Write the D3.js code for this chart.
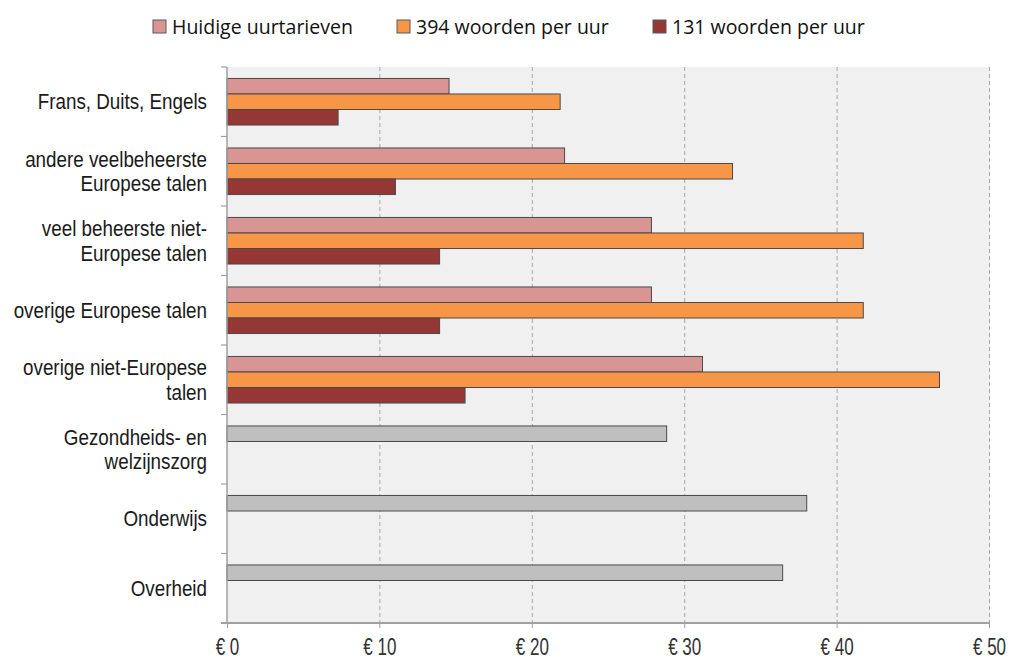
<!DOCTYPE html>
<html>
<head>
<meta charset="utf-8">
<script src="https://cdn.jsdelivr.net/npm/d3@7"></script>
<style>
  body { margin: 0; background: #fff; }
  svg { display: block; }
</style>
</head>
<body>
<div id="chart"></div>
<script>
// categories, top to bottom ("\n" = line break in label)
var categories = [
	"Frans, Duits, Engels",
	"andere veelbeheerste\nEuropese talen",
	"veel beheerste niet-\nEuropese talen",
	"overige Europese talen",
	"overige niet-Europese\ntalen",
	"Gezondheids- en\nwelzijnszorg",
	"Onderwijs",
	"Overheid"
];
var sectorRows = ["Gezondheids- en\nwelzijnszorg", "Onderwijs", "Overheid"];

var seriesNames = ["Huidige uurtarieven", "394 woorden per uur", "131 woorden per uur"];
var huidig = [14.57, 22.15, 27.85, 27.85, 31.2, 28.85, 38.04, 36.46];
var woorden394 = [21.86, 33.17, 41.75, 41.75, 46.75, null, null, null];
var woorden131 = [7.29, 11.05, 13.95, 13.95, 15.62, null, null, null];
var xTicks = [0, 10, 20, 30, 40, 50];

var seriesColors = ["#d99594", "#f79646", "#953735"];
var sectorColor = "#bfbfbf";

var width = 1010, height = 661;
var plotLeft = 227, plotRight = 989, plotTop = 67, plotBottom = 623;
// no narrow font installed: squeeze Liberation Sans (Arial metrics) instead
var narrowFont = "'Liberation Sans', Arial, sans-serif";

var svg = d3.select("#chart").append("svg")
	.attr("width", width)
	.attr("height", height);

var x = d3.scaleLinear().domain([0, 50]).range([plotLeft, plotRight]);
var y = d3.scaleBand().domain(categories).range([plotTop, plotBottom])
	.paddingInner(0.33).paddingOuter(0.165);
var ySub = d3.scaleBand().domain(seriesNames).range([0, y.bandwidth()]);
var step = (plotBottom - plotTop) / categories.length;

// plot background
svg.append("rect")
	.attr("x", plotLeft).attr("y", plotTop)
	.attr("width", plotRight - plotLeft + 1).attr("height", plotBottom - plotTop)
	.attr("fill", "#f0f0f0");

// dashed gridlines
svg.append("g").selectAll("line")
	.data(xTicks.filter(function(d){ return d > 0; }))
	.enter().append("line")
		.attr("x1", function(d){ return x(d) + 0.5; })
		.attr("x2", function(d){ return x(d) + 0.5; })
		.attr("y1", plotTop).attr("y2", plotBottom)
		.attr("stroke", "#a6a6a6")
		.attr("stroke-dasharray", "4,3");

// bars
var rows = categories.map(function(c, i){
	return {cat: c, vals: [huidig[i], woorden394[i], woorden131[i]]};
});
var bars = [];
rows.forEach(function(r){
	r.vals.forEach(function(v, j){
		if (v !== null) bars.push({cat: r.cat, series: seriesNames[j], idx: j, value: v});
	});
});

svg.append("g").selectAll("rect")
	.data(bars)
	.enter().append("rect")
		.attr("x", x(0))
		.attr("y", function(d){ return y(d.cat) + ySub(d.series); })
		.attr("width", function(d){ return x(d.value) - x(0); })
		.attr("height", ySub.bandwidth())
		.attr("fill", function(d){
			return sectorRows.indexOf(d.cat) >= 0 ? sectorColor : seriesColors[d.idx];
		})
		.attr("stroke", "#4a4a4a")
		.attr("stroke-width", 1);

// y axis line + ticks at category boundaries
svg.append("line")
	.attr("x1", plotLeft).attr("x2", plotLeft)
	.attr("y1", plotTop).attr("y2", plotBottom)
	.attr("stroke", "#a0a0a0").attr("stroke-width", 1.5);
svg.append("g").selectAll("line")
	.data(d3.range(categories.length))
	.enter().append("line")
		.attr("x1", plotLeft - 6).attr("x2", plotLeft)
		.attr("y1", function(i){ return plotTop + i * step; })
		.attr("y2", function(i){ return plotTop + i * step; })
		.attr("stroke", "#a0a0a0").attr("stroke-width", 1.2);

// x axis
var xAxis = d3.axisBottom(x)
	.tickValues(xTicks)
	.tickSize(5)
	.tickFormat(function(d){ return "\u20ac " + d; });
var gx = svg.append("g")
	.attr("transform", "translate(0," + plotBottom + ")")
	.call(xAxis);
gx.select(".domain")
	.attr("d", "M" + (plotLeft - 6) + ",0H" + (plotRight + 1))
	.attr("stroke", "#a0a0a0").attr("stroke-width", 2);
gx.selectAll(".tick line").attr("stroke", "#a0a0a0");
gx.selectAll(".tick text")
	.attr("y", 32)
	.attr("dy", null)
	.attr("transform", "scale(0.74,1)")
	.style("font-family", narrowFont)
	.style("font-size", "23px")
	.attr("fill", "#333");

// category labels
var labels = svg.append("g")
	.style("font-family", narrowFont)
	.style("font-size", "21.5px")
	.attr("fill", "#1a1a1a")
	.attr("text-anchor", "end");
categories.forEach(function(c){
	var lines = c.split("\n");
	var cy = y(c) + y.bandwidth() / 2;
	var lh = 24.5;
	var t = labels.append("text")
		.attr("transform", "translate(207," + cy + ") scale(0.875,1)");
	lines.forEach(function(l, k){
		t.append("tspan")
			.attr("x", 0)
			.attr("y", (k - (lines.length - 1) / 2) * lh)
			.attr("dy", "0.35em")
			.text(l);
	});
});

// legend
var legendX = [153, 397, 653];
var legend = svg.append("g")
	.style("font-family", "'Open Sans', Lato, sans-serif")
	.style("font-size", "19.5px");
seriesNames.forEach(function(s, i){
	legend.append("rect")
		.attr("x", legendX[i]).attr("y", 20)
		.attr("width", 13).attr("height", 13)
		.attr("fill", seriesColors[i])
		.attr("stroke", "#595959");
	legend.append("text")
		.attr("x", legendX[i] + 19).attr("y", 27)
		.attr("dy", "0.35em")
		.attr("fill", "#111")
		.text(s);
});
</script>
</body>
</html>
